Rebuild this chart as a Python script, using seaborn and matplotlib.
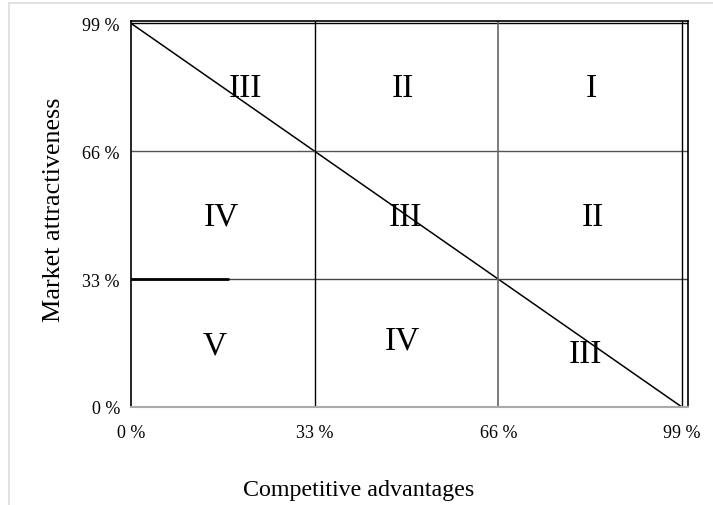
import matplotlib
matplotlib.use("Agg")
import matplotlib.pyplot as plt
import seaborn as sns
import pandas as pd

# Matrix data
ticks = [0, 33, 66, 99]
tick_labels = ["0 %", "33 %", "66 %", "99 %"]
cell_labels = ["III", "II", "I", "IV", "III", "II", "V", "IV", "III"]
label_x = [20.5, 48.8, 82.8, 16.3, 49.4, 83.0, 15.0, 48.8, 81.7]
label_y = [82.5, 82.5, 82.5, 49.2, 49.2, 49.2, 16.0, 17.3, 13.7]
diag_x = [0, 99]
diag_y = [99, 0]

sns.set_style("white")
plt.rcParams['font.family'] = ['Liberation Serif', 'DejaVu Serif']
plt.rcParams['text.color'] = 'black'
plt.rcParams['axes.labelcolor'] = 'black'
plt.rcParams['xtick.color'] = 'black'
plt.rcParams['ytick.color'] = 'black'

fig = plt.figure(figsize=(7.13, 5.06), dpi=100)
# light grey outer frame
fig.add_artist(plt.Line2D([9 / 713, 1], [1 - 4 / 506, 1 - 4 / 506], color="#dddddd", lw=1.2))
fig.add_artist(plt.Line2D([9 / 713, 9 / 713], [0, 1 - 4 / 506], color="#dddddd", lw=1.2))

ax = fig.add_axes([131 / 713, 1 - 408 / 506, (688 - 131) / 713, (408 - 22) / 506])

diag = pd.DataFrame({"x": diag_x, "y": diag_y})
sns.lineplot(data=diag, x="x", y="y", color="black", lw=1.1, ax=ax)

# grid lines
ax.axhline(33, color="#444444", lw=1.0)
ax.axhline(66, color="#555555", lw=1.0)
ax.axhline(99, color="black", lw=1.0)
ax.axvline(33, color="black", lw=1.0)
ax.axvline(66, color="#666666", lw=1.2)
ax.axvline(99, color="black", lw=1.0)
# thick segment at 33 %
sns.lineplot(x=[0, 17.4], y=[33, 33], color="black", lw=2, ax=ax)

for t, x, y in zip(cell_labels, label_x, label_y):
    ax.text(x, y, t, ha="center", va="center", fontsize=24, color="black")

ax.set_xlim(0, 100.1)
ax.set_ylim(0, 99.6)
ax.set_xticks(ticks)
ax.set_xticklabels(tick_labels, fontsize=13)
ax.set_yticks(ticks)
ax.set_yticklabels(tick_labels, fontsize=13)
ax.tick_params(axis="x", length=0, pad=12)
ax.tick_params(axis="y", length=0, pad=8)

for s in ["left", "top", "right"]:
    ax.spines[s].set_color("black")
    ax.spines[s].set_linewidth(1.2)
ax.spines["bottom"].set_color("#aaaaaa")
ax.spines["bottom"].set_linewidth(1.5)

ax.set_xlabel("Competitive advantages", fontsize=17.3, va="center")
ax.xaxis.set_label_coords((359 - 131) / 557, (408 - 491) / 386)
ax.set_ylabel("Market attractiveness", fontsize=18.8, va="center")
ax.yaxis.set_label_coords((54 - 131) / 557, (408 - 210) / 386)

fig.savefig("out.png", dpi=100)
